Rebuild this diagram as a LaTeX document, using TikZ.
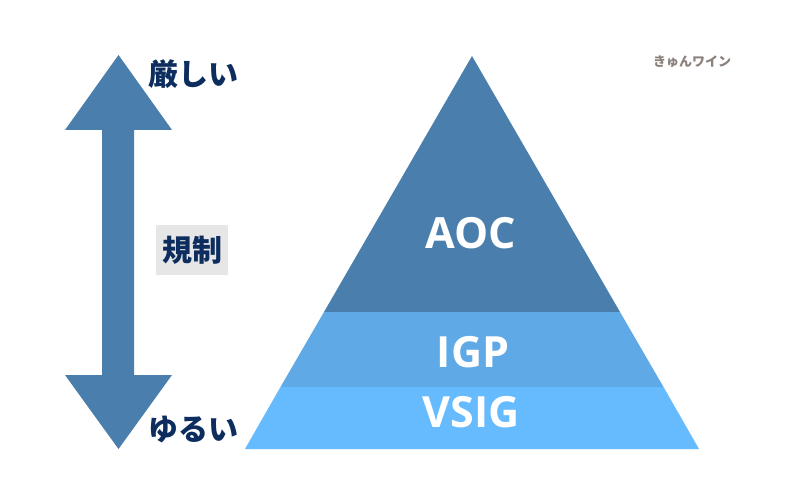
\documentclass[tikz,border=0pt]{standalone}
\usepackage{fontspec}
\newfontfamily\jpfont{Noto Sans CJK JP}
\newfontfamily\lafont{Open Sans}
\definecolor{arrowblue}{HTML}{4A7EAC}
\definecolor{aoc}{HTML}{4A7EAC}
\definecolor{igp}{HTML}{5FA9E6}
\definecolor{vsig}{HTML}{66BAFE}
\definecolor{navy}{HTML}{0C2D5E}
\definecolor{lgray}{HTML}{E6E6E6}
\definecolor{wm}{HTML}{8A807C}
\tikzset{
  jplabel/.style={font=\jpfont\bfseries\fontsize{30bp}{32bp}\selectfont, text=navy, inner sep=0pt},
  tierlabel/.style={font=\lafont\bfseries\fontsize{43bp}{46bp}\selectfont, text=white, inner sep=0pt},
}
\begin{document}
\begin{tikzpicture}[x=1bp,y=-1bp]
\useasboundingbox (0,0) rectangle (800,500);
\fill[white] (0,0) rectangle (800,500);
% double arrow
\fill[arrowblue] (118.5,55) -- (172,130) -- (134,130) -- (134,375) -- (172,375)
  -- (118.5,449) -- (65,375) -- (102,375) -- (102,130) -- (65,130) -- cycle;
% pyramid
\fill[aoc] (472,56) -- (620,312) -- (324,312) -- cycle;
\fill[igp] (324,312) -- (620,312) -- (663.5,387) -- (280.5,387) -- cycle;
\fill[vsig] (280.5,387) -- (663.5,387) -- (699,449) -- (245,449) -- cycle;
% labels
\node[jplabel, anchor=west] (strict) at (148,74) {厳しい};
\node[jplabel, anchor=west] (loose) at (148,430) {ゆるい};
\node[fill=lgray, minimum width=72bp, minimum height=49bp, inner sep=0pt] (regbox) at (192,250) {};
\node[jplabel] (reg) at (regbox.center) {規制};
\node[tierlabel] (aocl) at (471,233) {AOC};
\node[tierlabel] (igpl) at (473,352) {IGP};
\node[tierlabel] (vsigl) at (471,412) {VSIG};
\node[font=\jpfont\bfseries\fontsize{13bp}{14bp}\selectfont, text=wm, inner sep=0pt] (wmark) at (692,62) {きゅんワイン};
\end{tikzpicture}
\end{document}
